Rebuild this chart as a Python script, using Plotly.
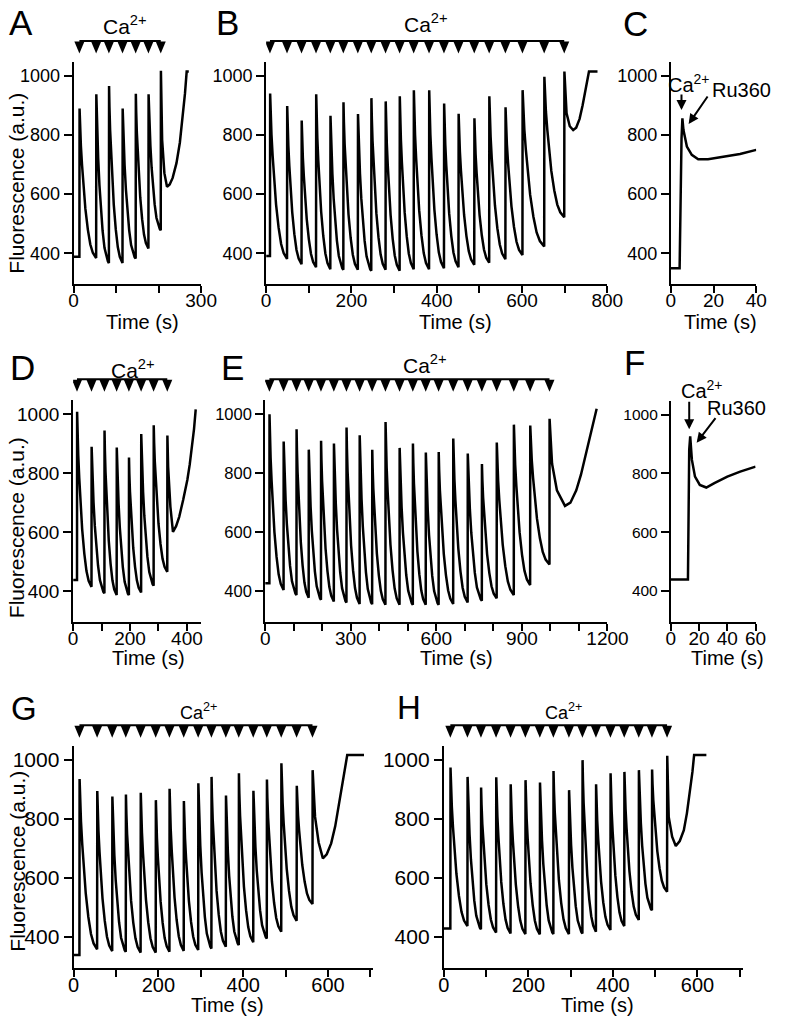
import plotly.graph_objects as go

W, H = 793, 1017
FONT = "Liberation Sans, Arial, sans-serif"

# ---------------- data ----------------
# Panel A
A_base = 388
A_pulse_t = [13.6, 53, 83, 115, 146, 176, 205]
A_peak = [890, 938, 966, 890, 940, 938, 1018]
A_trough = [384, 367, 367, 382, 416, 478]
A_tail_t = [208.3, 213.6, 219.7, 226, 233, 242, 250, 257, 262, 266, 271]
A_tail_v = [783, 671, 625, 633, 655, 705, 775, 860, 940, 1015, 1015]

# Panel B
B_base = 391
B_pulse_t = [9, 49, 83, 117, 150.5, 181, 215, 246.5, 280, 313, 346, 382, 417, 451, 488, 523, 561, 601, 652, 699]
B_peak = [941, 898, 849, 938, 865, 911, 871, 925, 914, 931, 952, 952, 907, 872, 857, 931, 894, 952, 997, 1015]
B_trough = [381, 363, 353, 346, 344, 344, 341, 344, 341, 346, 346, 349, 353, 361, 368, 380, 394, 423, 522]
B_tail_t = [704.5, 712, 720, 727, 735, 742, 750, 757, 777]
B_tail_v = [874, 830, 817, 825, 855, 900, 965, 1015, 1015]

# Panel C
C_t = [0, 4.1, 5.0, 5.4, 5.9, 7.5, 9.8, 12.8, 17.4, 24.9, 32.4, 40]
C_v = [349, 349, 790, 857, 817, 761, 733, 718, 718, 727, 736, 750]

# Panel D
D_base = 437
D_pulse_t = [13.6, 64.6, 110, 153, 196, 239, 283, 331]
D_peak = [1009, 890, 945, 887, 853, 933, 963, 928]
D_trough = [414, 392, 386, 386, 395, 418, 465]
D_tail_t = [334, 342, 351, 362, 373, 387, 401.5, 410, 418.5, 425, 431]
D_tail_v = [822, 686, 601, 620, 652, 710, 777, 830, 890, 950, 1017]

# Panel E
E_base = 426
E_pulse_t = [14.8, 64.5, 109.7, 152.5, 195.6, 240.7, 284.9, 331, 375, 421.6, 471, 517.6, 562.8, 608, 659,
             709.8, 759.5, 811.5, 871.5, 928.8, 996.6]
E_peak = [1000, 908, 949, 880, 910, 901, 955, 929, 880, 974, 886, 901, 870, 872, 918, 867, 831, 904, 965, 962, 985]
E_trough = [403, 386, 377, 370, 364, 361, 356, 355, 353, 353, 353, 353, 353, 356, 361, 367, 375, 386, 420, 490]
E_tail_t = [1005.7, 1022.7, 1051, 1070, 1090.5, 1107, 1124.4, 1143, 1162]
E_tail_v = [832, 742, 689, 700, 742, 795, 866, 940, 1019]

# Panel F
F_t = [0, 12.1, 13.0, 13.7, 14.9, 17.1, 20.5, 25.1, 30.8, 40, 49.1, 60]
F_v = [439, 439, 880, 926, 846, 789, 761, 752, 767, 789, 806, 823]

# Panel G
G_base = 338
G_pulse_t = [13.7, 55.4, 91, 123, 158, 193.6, 226, 259.7, 293.8, 325, 359, 389.5, 423.7, 455.6, 489.7, 526, 563.4]
G_peak = [936, 895, 876, 883, 889, 864, 903, 861, 921, 943, 880, 955, 896, 934, 989, 913, 966]
G_trough = [357, 351, 349, 346, 346, 349, 352, 355, 360, 366, 372, 381, 394, 417, 454, 511]
G_tail_t = [569.5, 578, 588, 597, 607.5, 617, 626.4, 634, 641.6, 645.4, 685]
G_tail_v = [807, 720, 666, 680, 717, 775, 853, 920, 989, 1017, 1017]

# Panel H
H_base = 428
H_pulse_t = [15.3, 55.7, 87.7, 123.5, 157.7, 192.8, 227, 259, 295.8, 327.7, 359.7, 394, 426.7, 461, 492.2, 528]
H_peak = [975, 943, 907, 942, 918, 932, 924, 963, 898, 1000, 918, 955, 960, 966, 968, 1015]
H_trough = [436, 425, 414, 411, 409, 408, 409, 409, 411, 417, 423, 436, 457, 490, 553]
H_tail_t = [531.9, 540, 548.6, 558, 567.7, 575, 582.9, 588, 592, 621]
H_tail_v = [807, 740, 708, 725, 762, 820, 898, 960, 1017, 1017]

# decay shape between a peak and the following trough
DECAY_S = [0, 0.03, 0.08, 0.15, 0.25, 0.35, 0.5, 0.65, 0.8, 0.92, 1.0]
DECAY_F = [1, 0.88, 0.75, 0.62, 0.46, 0.33, 0.19, 0.09, 0.035, 0.01, 0]

Y_TICKS = [400, 600, 800, 1000]
Y_RANGE = [295, 1048]


def build(base, T, P, R, tail_t, tail_v):
    t, v = [0, T[0]], [base, base]
    eps = 0.4
    for i in range(len(T)):
        t.append(T[i] + eps)
        v.append(P[i])
        if i < len(T) - 1:
            start, end, low = T[i] + eps, T[i + 1], R[i]
            for s, f in zip(DECAY_S[1:], DECAY_F[1:]):
                t.append(start + s * (end - start))
                v.append(low + f * (P[i] - low))
        else:
            t += tail_t
            v += tail_v
    return t, v


def X(p):
    return p / W


def Y(p):
    return 1 - p / H


# panel geometry in pixels
panels = {
    "A": dict(x=(70, 202), y=(61.8, 284.3), xr=[0, 300], xt=[0, 300], minor=100, yf=18, xf=19),
    "B": dict(x=(269.3, 622.5), y=(61.8, 284.3), xr=[0, 800], xt=[0, 200, 400, 600, 800], minor=100, yf=18, xf=19),
    "C": dict(x=(688.3, 776.7), y=(61.8, 284.3), xr=[0, 40], xt=[0, 20, 40], minor=None, yf=18, xf=19),
    "D": dict(x=(69.5, 202), y=(400.2, 621.9), xr=[0, 450], xt=[0, 200, 400], minor=100, yf=19, xf=19),
    "E": dict(x=(268.3, 622.7), y=(400.2, 621.9), xr=[0, 1200], xt=[0, 300, 600, 900, 1200], minor=100, yf=16.5, xf=19),
    "F": dict(x=(688.3, 776), y=(400.5, 621.9), xr=[0, 60], xt=[0, 20, 40, 60], minor=None, yf=15.5, xf=19),
    "G": dict(x=(70, 380.3), y=(746, 967.6), xr=[0, 707], xt=[0, 200, 400, 600], minor=100, yf=21, xf=20),
    "H": dict(x=(453.3, 762.7), y=(746, 967.6), xr=[0, 707], xt=[0, 200, 400, 600], minor=100, yf=21, xf=20),
}

series = {
    "A": build(A_base, A_pulse_t, A_peak, A_trough, A_tail_t, A_tail_v),
    "B": build(B_base, B_pulse_t, B_peak, B_trough, B_tail_t, B_tail_v),
    "C": (C_t, C_v),
    "D": build(D_base, D_pulse_t, D_peak, D_trough, D_tail_t, D_tail_v),
    "E": build(E_base, E_pulse_t, E_peak, E_trough, E_tail_t, E_tail_v),
    "F": (F_t, F_v),
    "G": build(G_base, G_pulse_t, G_peak, G_trough, G_tail_t, G_tail_v),
    "H": build(H_base, H_pulse_t, H_peak, H_trough, H_tail_t, H_tail_v),
}
pulses = {"A": A_pulse_t, "B": B_pulse_t, "D": D_pulse_t, "E": E_pulse_t, "G": G_pulse_t, "H": H_pulse_t}

fig = go.Figure()
layout = dict(width=W, height=H, margin=dict(l=0, r=0, t=0, b=0), showlegend=False,
              plot_bgcolor="white", paper_bgcolor="white", font=dict(family=FONT, color="black"))
shapes, annotations = [], []

for i, (name, p) in enumerate(panels.items()):
    n = "" if i == 0 else str(i + 1)
    xa, ya = "x" + n, "y" + n
    top, bot = p["y"]
    scale = (bot - top) / (Y_RANGE[1] - Y_RANGE[0])
    px1000 = top + (Y_RANGE[1] - 1000) * scale
    xscale = (p["x"][1] - p["x"][0]) / (p["xr"][1] - p["xr"][0])

    xax = dict(domain=[X(p["x"][0]), X(p["x"][1])], anchor=ya, range=p["xr"],
               tickmode="array", tickvals=p["xt"], showline=True, linewidth=2,
               linecolor="black", ticks="outside", ticklen=7, tickwidth=2,
               tickcolor="black", showgrid=False, zeroline=False, ticklabelstandoff=-9,
               tickfont=dict(size=p["xf"], family=FONT, color="black"), fixedrange=True)
    if p["minor"]:
        xax["minor"] = dict(dtick=p["minor"], tick0=0, ticks="outside", ticklen=7, tickwidth=2,
                            tickcolor="black", showgrid=False)
    layout["xaxis" + n] = xax
    layout["yaxis" + n] = dict(domain=[Y(bot), Y(top)], anchor=xa, range=Y_RANGE, tickvals=Y_TICKS,
                               showline=True, linewidth=2, linecolor="black", ticks="outside",
                               ticklen=8, tickwidth=2, tickcolor="black", showgrid=False,
                               zeroline=False, tickfont=dict(size=p["yf"], family=FONT, color="black"),
                               fixedrange=True)

    t, v = series[name]
    fig.add_trace(go.Scatter(x=t, y=v, mode="lines", line=dict(color="black", width=2.5),
                             xaxis=xa, yaxis=ya, hoverinfo="skip"))

    if name in pulses:
        T = pulses[name]
        # downward triangles marking each Ca2+ addition, hanging from a horizontal bar
        dx = 5.2 / xscale
        ytop, ytip = Y(px1000 - 34.5), Y(px1000 - 22.5)
        for tp in T:
            shapes.append(dict(type="path", xref=xa, yref="paper",
                               path=f"M{tp - dx},{ytop} L{tp + dx},{ytop} L{tp},{ytip} Z",
                               fillcolor="black", line=dict(width=0)))
        shapes.append(dict(type="line", xref=xa, yref="paper", x0=T[0], x1=T[-1],
                           y0=Y(px1000 - 35), y1=Y(px1000 - 35),
                           line=dict(color="black", width=2)))

# panel letters
letters = [("A", 16, 22.5, 35), ("B", 229, 22.5, 35), ("C", 652, 23.3, 35),
           ("D", 17.5, 367.5, 35), ("E", 234, 367.5, 35), ("F", 651, 362.5, 35),
           ("G", 18.3, 708, 33), ("H", 417.5, 707.5, 33)]
for txt, x, y, s in letters:
    annotations.append(dict(text=txt, x=X(x), y=Y(y), xref="paper", yref="paper", showarrow=False,
                            xanchor="center", yanchor="middle", font=dict(size=s, family=FONT)))

# axis titles
for y in [183, 527.5, 861]:
    annotations.append(dict(text="Fluorescence (a.u.)", x=X(11), y=Y(y), xref="paper", yref="paper",
                            showarrow=False, textangle=-90, xanchor="center", yanchor="middle",
                            font=dict(size=21, family=FONT)))
for x, y in [(141.7, 322), (465.8, 322), (740, 322), (147.5, 658), (466.7, 658), (746.7, 658),
             (229.7, 1005), (612.5, 1005)]:
    annotations.append(dict(text="Time (s)", x=X(x), y=Y(y), xref="paper", yref="paper",
                            showarrow=False, xanchor="center", yanchor="middle",
                            font=dict(size=20, family=FONT)))

# Ca2+ labels above pulse bars
for x, y, s in [(123.3, 25, 21), (435, 23.3, 21), (131.7, 369, 21), (434, 364, 21),
                (199, 711, 18), (577, 711, 18)]:
    annotations.append(dict(text="Ca<sup>2+</sup>", x=X(x), y=Y(y), xref="paper", yref="paper",
                            showarrow=False, xanchor="center", yanchor="middle",
                            font=dict(size=s, family=FONT)))

# C and F labels with arrows
for (cx, cy), (rx, ry) in [((706.7, 83.5), (761.7, 90)), ((721, 389), (756, 408))]:
    annotations.append(dict(text="Ca<sup>2+</sup>", x=X(cx), y=Y(cy), xref="paper", yref="paper",
                            showarrow=False, xanchor="center", yanchor="middle",
                            font=dict(size=20, family=FONT)))
    annotations.append(dict(text="Ru360", x=X(rx), y=Y(ry), xref="paper", yref="paper",
                            showarrow=False, xanchor="center", yanchor="middle",
                            font=dict(size=20, family=FONT)))
for (tx, ty), (ax, ay) in [((699.3, 110), (0, -17)), ((706.7, 124), (20, -29)),
                           ((707.3, 429.3), (0, -29)), ((715, 442.7), (20, -26))]:
    annotations.append(dict(text="", x=X(tx), y=Y(ty), xref="paper", yref="paper", showarrow=True,
                            ax=ax, ay=ay, arrowhead=2, arrowsize=1, arrowwidth=2, arrowcolor="black",
                            standoff=0, startstandoff=0))

layout["shapes"] = shapes
layout["annotations"] = annotations
fig.update_layout(**layout)
fig.write_html("out.html", config={"displayModeBar": False},
               post_script="document.body.style.margin='0';document.body.style.overflow='hidden';")
